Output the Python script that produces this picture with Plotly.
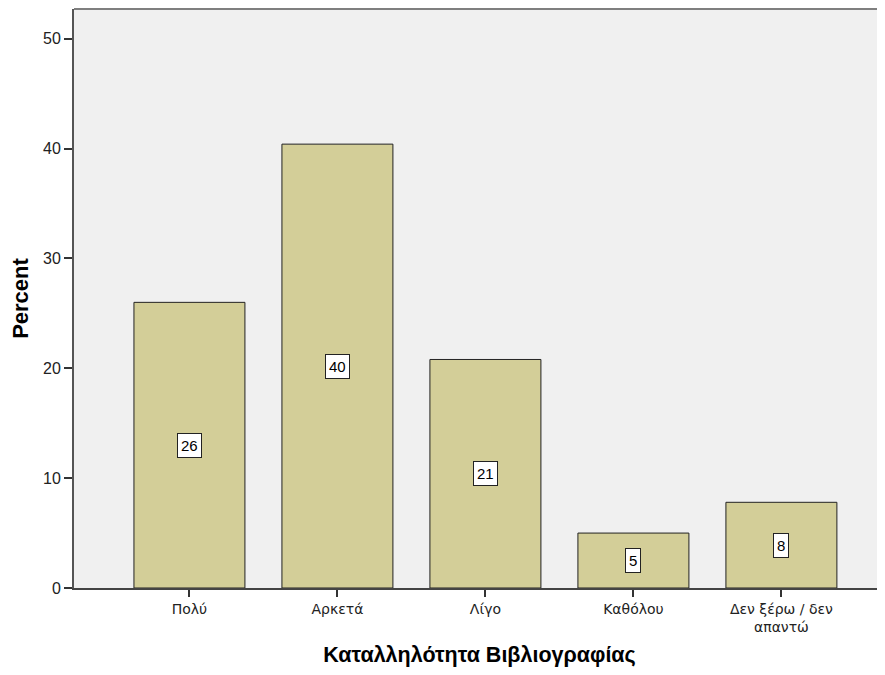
import plotly.graph_objects as go

# Categories and percentages
categories = ['Πολύ', 'Αρκετά', 'Λίγο', 'Καθόλου', 'Δεν ξέρω / δεν<br>απαντώ']
percent = [26.0, 40.4, 20.8, 5.0, 7.8]
y_ticks = [0, 10, 20, 30, 40, 50]

bar_color = '#d3ce98'
font_family = 'Liberation Sans, Arial, sans-serif'
tick_family = 'DejaVu Sans, Verdana, sans-serif'

fig = go.Figure()

fig.add_trace(go.Bar(
    x=list(range(len(categories))),
    y=percent,
    width=0.75,
    marker=dict(color=bar_color, line=dict(color='#222222', width=1)),
    hoverinfo='skip',
))

# value labels in white boxes at half the bar height
for i, v in enumerate(percent):
    fig.add_annotation(
        x=i, y=v / 2,
        text=f'{round(v)}',
        showarrow=False,
        bgcolor='white',
        bordercolor='#222222',
        borderwidth=1,
        borderpad=3,
        font=dict(family=font_family, size=15, color='black'),
    )

# top border of the plot area
fig.add_shape(type='line', xref='paper', yref='paper',
              x0=0, x1=1, y0=1, y1=1,
              line=dict(color='#7f7f7f', width=2))

# the page body adds an 8px margin, so the figure is made smaller
fig.update_layout(
    width=877, height=659,
    margin=dict(l=66, r=0, t=1, b=79),
    paper_bgcolor='white',
    plot_bgcolor='#f0f0f0',
    showlegend=False,
    bargap=0.25,
    font=dict(family=font_family, size=13, color='black'),
    xaxis=dict(
        range=[-0.78, 4.70],
        tickmode='array',
        tickvals=list(range(len(categories))),
        ticktext=categories,
        ticks='outside', ticklen=7, tickwidth=2, tickcolor='#333333',
        showline=True, linecolor='#444444', linewidth=2,
        showgrid=False, zeroline=False,
        tickfont=dict(family=tick_family, size=14, color='#222222'),
        title=dict(text='<b>Καταλληλότητα Βιβλιογραφίας</b>',
                   font=dict(size=21.5), standoff=16),
    ),
    yaxis=dict(
        range=[0, 52.7],
        tickmode='array',
        tickvals=y_ticks,
        ticks='outside', ticklen=8, tickwidth=2, tickcolor='#333333',
        showline=True, linecolor='#555555', linewidth=2,
        showgrid=False, zeroline=False,
        tickfont=dict(size=16, color='#222222'),
        title=dict(text='<b>Percent</b>', font=dict(size=22), standoff=8),
    ),
)

fig.write_html('out.html')
